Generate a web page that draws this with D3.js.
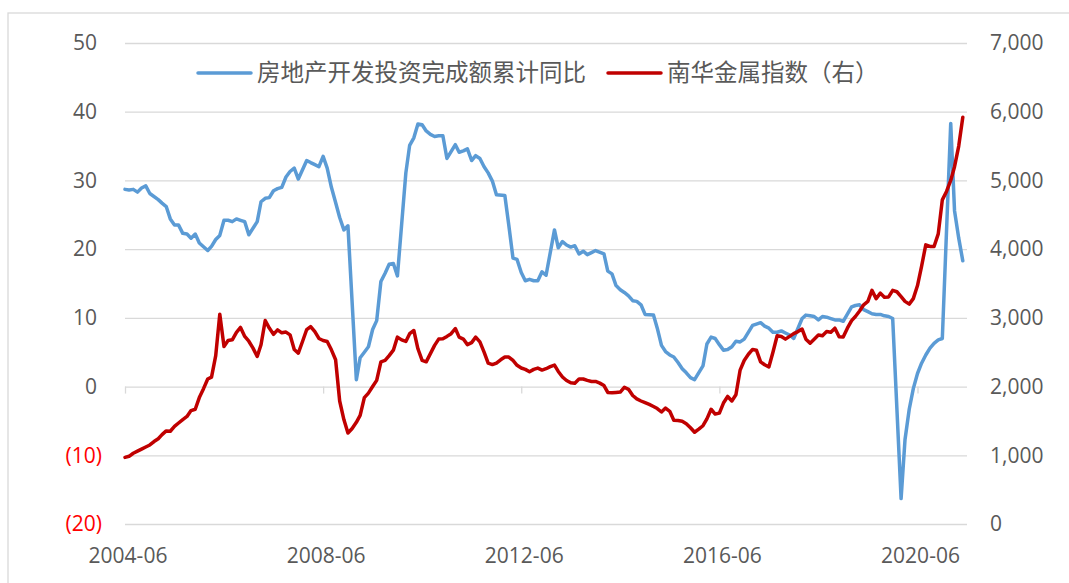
<!DOCTYPE html>
<html>
<head>
<meta charset="utf-8">
<script src="https://cdn.jsdelivr.net/npm/d3@7"></script>
<style>
  body { margin: 0; background: #fff; }
  svg { display: block; font-family: "Open Sans", sans-serif; }
</style>
</head>
<body>
<svg width="1069" height="583"></svg>
<script>
// data: monthly, 2004-06 .. 2021-05 (Jan has no separate investment figure)
const startMonth = new Date(2004, 5, 1);

const investYoY = [
    28.7, 28.6, 28.7, 28.3, 28.9, 29.2, 28.1,
    null, 27.2, 26.7, 26.2, 24.4, 23.5, 23.5, 22.3, 22.2, 21.6, 22.2, 20.9,
    null, 19.8, 20.4, 21.4, 22.0, 24.2, 24.2, 24.0, 24.4, 24.2, 24.0, 22.1,
    null, 24.0, 26.9, 27.4, 27.5, 28.5, 28.8, 29.0, 30.5, 31.3, 31.8, 30.2,
    null, 32.9, 32.6, 32.3, 32.0, 33.5, 31.8, 29.0, 26.8, 24.6, 22.8, 23.4,
    null, 1.0, 4.2, 5.0, 5.8, 8.3, 9.6, 15.3, 16.5, 17.8, 17.9, 16.1,
    null, 31.1, 35.1, 36.2, 38.2, 38.1, 37.2, 36.7, 36.4, 36.5, 36.5, 33.2,
    null, 35.2, 34.1, 34.3, 34.6, 32.9, 33.6, 33.2, 32.0, 31.1, 29.9, 27.9,
    null, 27.8, 23.5, 18.7, 18.5, 16.6, 15.4, 15.6, 15.4, 15.4, 16.7, 16.2,
    null, 22.8, 20.2, 21.1, 20.6, 20.3, 20.5, 19.3, 19.7, 19.2, 19.5, 19.8,
    null, 19.3, 16.8, 16.4, 14.7, 14.1, 13.7, 13.2, 12.5, 12.4, 11.9, 10.5,
    null, 10.4, 8.5, 6.0, 5.1, 4.6, 4.3, 3.5, 2.6, 2.0, 1.3, 1.0,
    null, 3.0, 6.2, 7.2, 7.0, 6.1, 5.3, 5.4, 5.8, 6.6, 6.5, 6.9,
    null, 8.9, 9.1, 9.3, 8.8, 8.5, 7.9, 7.9, 8.1, 7.8, 7.5, 7.0,
    null, 9.9, 10.4, 10.3, 10.2, 9.7, 10.2, 10.1, 9.9, 9.7, 9.7, 9.5,
    null, 11.6, 11.8, 11.9, 11.2, 10.9, 10.6, 10.5, 10.5, 10.3, 10.2, 9.9,
    null, -16.3, -7.7, -3.3, -0.3, 1.9, 3.4, 4.6, 5.6, 6.3, 6.8, 7.0,
    null, 38.3, 25.6, 21.6, 18.3
];

const metalIndex = [
    970, 985, 1030, 1060, 1090, 1120, 1150, 1200, 1240, 1300,
    1355, 1350, 1420, 1470, 1520, 1565, 1650, 1670, 1840, 1970,
    2110, 2138, 2450, 3054, 2583, 2671, 2681, 2790, 2860, 2730,
    2660, 2560, 2438, 2608, 2962, 2851, 2760, 2826, 2782, 2793,
    2753, 2540, 2487, 2656, 2830, 2874, 2800, 2700, 2671, 2656,
    2535, 2390, 1790, 1520, 1324, 1390, 1480, 1580, 1840, 1905,
    2000, 2090, 2360, 2380, 2450, 2530, 2720, 2680, 2656, 2770,
    2816, 2550, 2380, 2360, 2480, 2600, 2691, 2696, 2730, 2770,
    2845, 2720, 2691, 2610, 2640, 2720, 2650, 2500, 2340, 2320,
    2342, 2390, 2430, 2430, 2380, 2310, 2270, 2250, 2215, 2250,
    2269, 2240, 2260, 2290, 2312, 2220, 2140, 2089, 2055, 2050,
    2110, 2110, 2090, 2074, 2074, 2050, 2015, 1915, 1910, 1915,
    1920, 1990, 1960, 1870, 1820, 1790, 1765, 1740, 1710, 1680,
    1630, 1687, 1640, 1510, 1505, 1495, 1460, 1400, 1335, 1380,
    1430, 1530, 1670, 1600, 1614, 1760, 1856, 1790, 1880, 2240,
    2380, 2470, 2540, 2530, 2360, 2317, 2285, 2500, 2740, 2729,
    2690, 2730, 2770, 2800, 2836, 2690, 2632, 2690, 2750, 2740,
    2800, 2790, 2850, 2725, 2720, 2850, 2960, 3020, 3100, 3190,
    3240, 3400, 3280, 3360, 3300, 3305, 3400, 3380, 3310, 3240,
    3200, 3280, 3470, 3750, 4062, 4040, 4038, 4222, 4717, 4840,
    5000, 5200, 5500, 5920
];

const leftTicks = [50, 40, 30, 20, 10, 0, -10, -20];
const rightTicks = [7000, 6000, 5000, 4000, 3000, 2000, 1000, 0];
const tickMonths = ["2004-06", "2008-06", "2012-06", "2016-06", "2020-06"];
const seriesNames = ["房地产开发投资完成额累计同比", "南华金属指数（右）"];
const seriesColors = ["#5B9BD5", "#C00000"];

// layout
const svg = d3.select("svg");
const plotLeft = 125, plotRight = 967, plotTop = 43, plotBottom = 524;
const textColor = "#595959", gridColor = "#d9d9d9";

const months = d3.timeMonth.range(startMonth, d3.timeMonth.offset(startMonth, metalIndex.length));
const parseMonth = d3.timeParse("%Y-%m");

const x = d3.scaleTime()
    .domain([startMonth, d3.timeMonth.offset(startMonth, metalIndex.length)])
    .range([plotLeft, plotRight]);
const yL = d3.scaleLinear().domain([-20, 50]).range([plotBottom, plotTop]);
const yR = d3.scaleLinear().domain([0, 7000]).range([plotBottom, plotTop]);

// frame
svg.append("rect")
    .attr("x", 8).attr("y", 13)
    .attr("width", 1100).attr("height", 620)
    .attr("fill", "#fff")
    .attr("stroke", gridColor)
    .attr("stroke-width", 1.3);

// gridlines
const grid = svg.append("g")
    .attr("transform", `translate(${plotLeft},0)`)
    .call(d3.axisLeft(yL).tickValues(leftTicks).tickSize(-(plotRight - plotLeft)).tickFormat(""));
grid.select(".domain").remove();
grid.selectAll("line").attr("stroke", gridColor).attr("stroke-width", 1.3);

// left axis labels, negatives in red with parentheses
const fmtLeft = d => d < 0 ? `(${Math.abs(d)})` : d;
const axL = svg.append("g")
    .attr("transform", "translate(102,0)")
    .call(d3.axisLeft(yL).tickValues(leftTicks).tickSize(0).tickPadding(0).tickFormat(fmtLeft));
axL.select(".domain").remove();
axL.selectAll("text")
    .attr("dx", d => d < 0 ? 0 : -5)
    .attr("fill", d => d < 0 ? "#FF0000" : textColor)
    .style("font-size", "21px")
    .style("font-family", "'Open Sans', sans-serif");

// right axis labels
const axR = svg.append("g")
    .attr("transform", "translate(990,0)")
    .call(d3.axisRight(yR).tickValues(rightTicks).tickSize(0).tickPadding(0).tickFormat(d3.format(",")));
axR.select(".domain").remove();
axR.selectAll("text")
    .attr("fill", textColor)
    .style("font-size", "21px")
    .style("font-family", "'Open Sans', sans-serif");

// x axis: tick marks on the zero line, labels low
const tickDates = tickMonths.map(parseMonth);
const axTicks = svg.append("g")
    .attr("transform", `translate(0,${yL(0)})`)
    .call(d3.axisBottom(x).tickValues(tickDates).tickSize(7).tickFormat(""));
axTicks.select(".domain").remove();
axTicks.selectAll("line").attr("stroke", gridColor).attr("stroke-width", 1.3);

const axB = svg.append("g")
    .attr("transform", "translate(2.5,548)")
    .call(d3.axisBottom(x).tickValues(tickDates).tickSize(0).tickPadding(0).tickFormat(d3.timeFormat("%Y-%m")));
axB.select(".domain").remove();
axB.selectAll("text")
    .attr("fill", textColor)
    .style("font-size", "21px")
    .style("font-family", "'Open Sans', sans-serif");

// lines
const investData = months.map((m, i) => ({ date: m, v: investYoY[i] })).filter(d => d.v != null);
const metalData = months.map((m, i) => ({ date: m, v: metalIndex[i] }));

svg.append("path")
    .datum(investData)
    .attr("fill", "none")
    .attr("stroke", seriesColors[0])
    .attr("stroke-width", 3.5)
    .attr("stroke-linejoin", "round")
    .attr("stroke-linecap", "round")
    .attr("d", d3.line().x(d => x(d.date)).y(d => yL(d.v)));

svg.append("path")
    .datum(metalData)
    .attr("fill", "none")
    .attr("stroke", seriesColors[1])
    .attr("stroke-width", 3.5)
    .attr("stroke-linejoin", "round")
    .attr("stroke-linecap", "round")
    .attr("d", d3.line().x(d => x(d.date)).y(d => yR(d.v)));

// legend
const legendX = [198, 608];
const legend = svg.selectAll(".legend")
    .data(seriesNames)
    .enter()
    .append("g")
    .attr("class", "legend")
    .attr("transform", (d, i) => `translate(${legendX[i]},73)`);

legend.append("line")
    .attr("x1", 0).attr("x2", 53)
    .attr("stroke", (d, i) => seriesColors[i])
    .attr("stroke-width", 3.5)
    .attr("stroke-linecap", "round");

legend.append("text")
    .attr("x", 59)
    .attr("dy", "0.35em")
    .attr("fill", textColor)
    .style("font-size", "23.5px")
    .style("font-family", "'Noto Sans CJK SC', sans-serif")
    .text(d => d);
</script>
</body>
</html>
